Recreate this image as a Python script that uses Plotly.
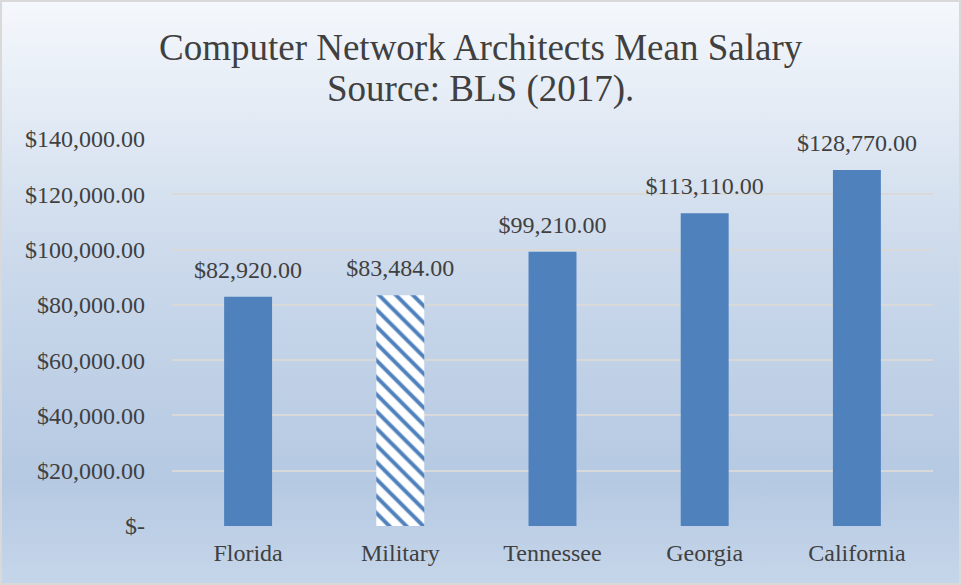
"""Computer network architects mean salary bar chart."""

import base64

import plotly.graph_objects as go

states = ["Florida", "Military", "Tennessee", "Georgia", "California"]
mean_salary = [82920, 83484, 99210, 113110, 128770]
salary_labels = ["$82,920.00", "$83,484.00", "$99,210.00", "$113,110.00", "$128,770.00"]
y_tick_values = [0, 20000, 40000, 60000, 80000, 100000, 120000, 140000]
y_tick_labels = ["$-", "$20,000.00", "$40,000.00", "$60,000.00", "$80,000.00",
                 "$100,000.00", "$120,000.00", "$140,000.00"]
title_lines = ["Computer Network Architects Mean Salary", "Source: BLS (2017)."]

BLUE = "#4f81bd"
TEXT = "#404040"
FONT = "Liberation Serif"

W, H = 961, 585
M = {"l": 172, "r": 28, "t": 139, "b": 59}
plot_w = W - M["l"] - M["r"]
plot_h = H - M["t"] - M["b"]


def py(pixel_y):
    """Figure pixel row -> paper y."""
    return 1 + (M["t"] - pixel_y) / plot_h


# excel-style light gradient behind the whole chart
svg = (
    '<svg xmlns="http://www.w3.org/2000/svg" width="100" height="100" preserveAspectRatio="none">'
    '<defs><linearGradient id="g" x1="0" y1="0" x2="0" y2="1">'
    '<stop offset="0" stop-color="#f5f8fc"/>'
    '<stop offset="0.45" stop-color="#cbd9eb"/>'
    '<stop offset="0.82" stop-color="#b5c9e2"/>'
    '<stop offset="1" stop-color="#c6d6ea"/>'
    '</linearGradient></defs>'
    '<rect width="100" height="100" fill="url(#g)"/></svg>'
)
bg_src = "data:image/svg+xml;base64," + base64.b64encode(svg.encode()).decode()

fig = go.Figure(
    go.Bar(
        x=states,
        y=mean_salary,
        width=0.315,
        marker={
            "color": BLUE,
            "line": {"width": 0},
            "pattern": {
                "shape": ["", "\\", "", "", ""],
                "fgcolor": BLUE,
                "bgcolor": "white",
                "fgopacity": 1,
                "size": 12,
                "solidity": 0.33,
                "fillmode": "replace",
            },
        },
        hoverinfo="skip",
    )
)

# value labels sit a little higher above the bars than plotly's "outside" text
fig.add_trace(
    go.Scatter(
        x=states,
        y=mean_salary,
        text=salary_labels,
        mode="markers+text",
        textposition="top center",
        marker={"size": 19, "opacity": 0},
        textfont={"family": FONT, "size": 24, "color": TEXT},
        cliponaxis=False,
        hoverinfo="skip",
    )
)

fig.add_layout_image(
    source=bg_src,
    xref="paper",
    yref="paper",
    x=-M["l"] / plot_w,
    y=1 + M["t"] / plot_h,
    sizex=W / plot_w,
    sizey=H / plot_h,
    xanchor="left",
    yanchor="top",
    sizing="stretch",
    layer="below",
)

fig.add_shape(
    type="rect",
    xref="paper",
    yref="paper",
    x0=-(M["l"] - 1) / plot_w,
    x1=1 + (M["r"] - 1) / plot_w,
    y0=-(M["b"] - 1) / plot_h,
    y1=1 + (M["t"] - 1) / plot_h,
    line={"color": "#d9d9d9", "width": 2},
    layer="above",
)

for text, row in zip(title_lines, [47, 89]):
    fig.add_annotation(
        text=text,
        xref="paper",
        yref="paper",
        x=(W / 2 - M["l"]) / plot_w,
        y=py(row),
        xanchor="center",
        yanchor="middle",
        showarrow=False,
        font={"family": FONT, "size": 37, "color": TEXT},
    )

fig.update_xaxes(
    showgrid=False,
    showline=False,
    ticklabelstandoff=10,
    tickfont={"family": FONT, "size": 24, "color": TEXT},
)
fig.update_yaxes(
    range=[0, 140000],
    tickvals=y_tick_values,
    ticktext=y_tick_labels,
    gridcolor="#d9d9d9",
    gridwidth=1.5,
    zeroline=False,
    ticklabelstandoff=26,
    tickfont={"family": FONT, "size": 24, "color": TEXT},
)
fig.update_layout(
    width=W,
    height=H,
    margin=M,
    paper_bgcolor="white",
    plot_bgcolor="rgba(0,0,0,0)",
    showlegend=False,
)

fig.write_html(
    "out.html",
    config={"displayModeBar": False},
    post_script="document.body.style.margin = '0';",
)
